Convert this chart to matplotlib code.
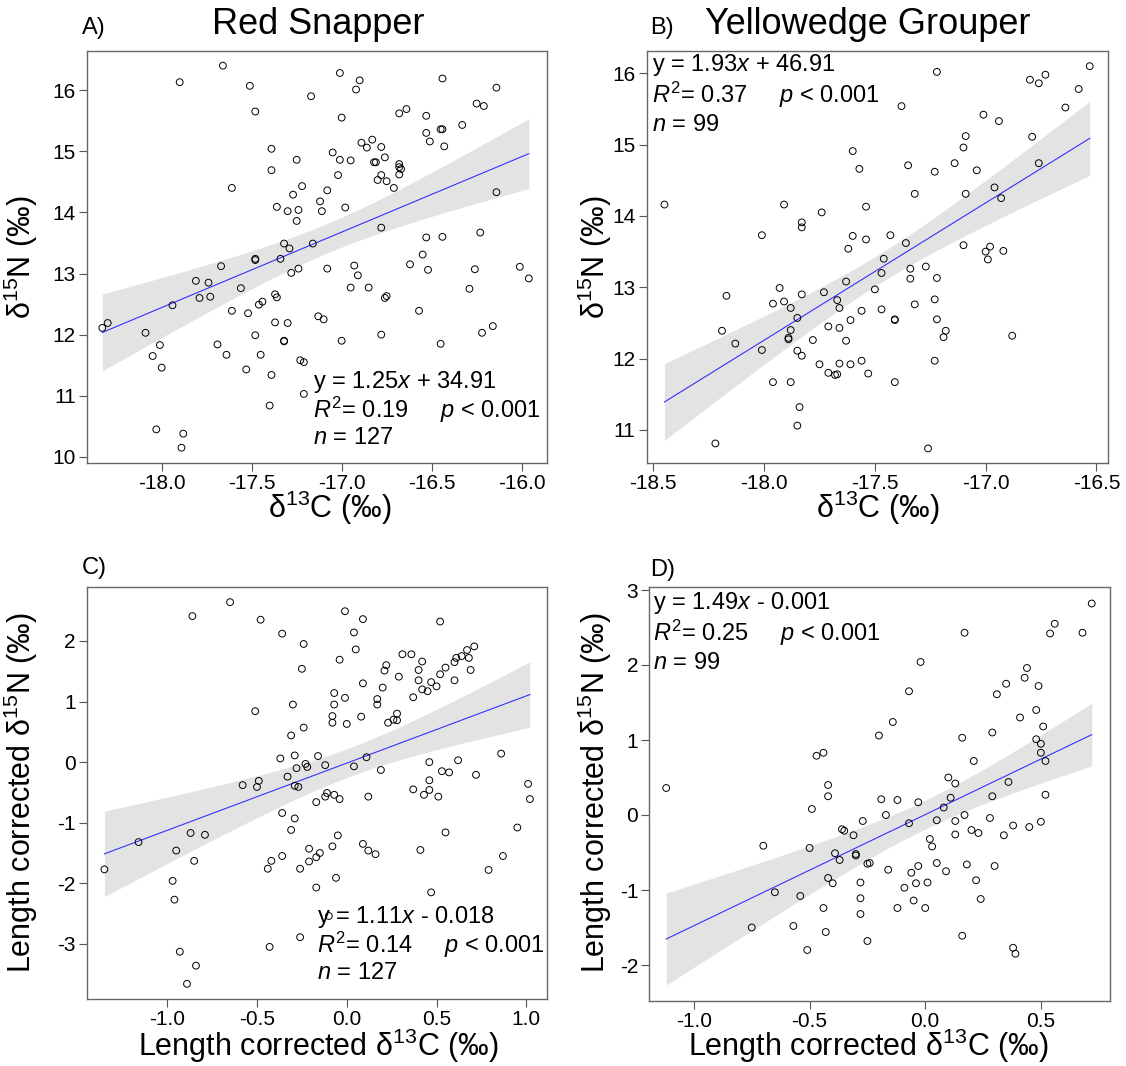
import matplotlib
matplotlib.use('Agg')
import matplotlib.pyplot as plt
import numpy as np

plt.rcParams.update({
    'font.family': ['Liberation Sans', 'DejaVu Sans'],
    'mathtext.fontset': 'custom',
    'mathtext.rm': 'Liberation Sans',
    'mathtext.it': 'Liberation Sans:italic',
    'mathtext.bf': 'Liberation Sans:bold',
    'axes.unicode_minus': False,
})

# === data ===
# A) Red Snapper: d13C vs d15N
a_x = [-18.33, -18.30, -18.09, -18.01, -18.05, -18.00, -17.94, -17.81, -17.79, -17.74,
       -17.73, -17.67, -17.56, -17.61, -17.52, -17.48, -17.48, -17.46, -17.44, -17.37,
       -17.36, -17.34, -17.32, -17.29, -17.28, -17.24, -17.16, -17.37, -17.30, -17.32,
       -17.32, -17.48, -17.45, -17.53, -17.39, -17.69, -17.64, -17.23, -17.21, -17.21,
       -17.40, -18.03, -17.88, -17.89, -17.90, -17.66, -17.51, -17.48, -17.17, -17.39,
       -17.25, -17.39, -17.61, -17.22, -17.27, -17.36, -17.30, -17.24, -17.25, -17.12,
       -17.11, -17.13, -17.10,
       -17.01, -16.90, -16.92, -17.00, -16.44, -16.14, -16.25, -16.21, -16.68, -16.64,
       -16.53, -16.53, -16.51, -16.45, -16.44, -16.33, -16.43, -16.89, -16.86, -16.83,
       -16.78, -16.76, -16.82, -16.81, -16.68, -16.68, -16.67, -16.68, -16.78, -16.80,
       -16.75, -16.71, -17.05, -17.01, -16.95, -17.02, -17.08, -16.98, -16.14, -16.78,
       -16.53, -16.44, -16.23, -16.55, -16.62, -16.52, -17.08, -16.93, -16.91, -16.95,
       -16.85, -16.76, -16.75, -16.57, -16.26, -16.29, -16.01, -15.96, -16.16, -16.22,
       -17.00, -16.78, -16.45]
a_y = [12.11, 12.19, 12.03, 11.83, 11.65, 11.46, 12.48, 12.88, 12.60, 12.85,
       12.62, 13.12, 12.76, 12.39, 12.35, 13.24, 13.22, 12.49, 12.54, 12.66,
       12.61, 13.24, 13.49, 13.41, 13.01, 13.08, 13.49, 12.20, 12.19, 11.90,
       11.89, 11.99, 11.67, 11.43, 11.34, 11.84, 11.67, 11.58, 11.55, 11.03,
       10.84, 10.45, 10.38, 10.15, 16.13, 16.40, 16.07, 15.65, 15.90, 15.04,
       14.86, 14.69, 14.40, 14.43, 14.29, 14.09, 14.02, 14.04, 13.86, 14.18,
       14.02, 12.30, 12.25,
       16.28, 16.16, 16.01, 15.55, 16.19, 16.04, 15.78, 15.74, 15.62, 15.69,
       15.58, 15.30, 15.16, 15.36, 15.36, 15.43, 15.08, 15.14, 15.06, 15.19,
       15.07, 14.90, 14.82, 14.82, 14.79, 14.74, 14.71, 14.62, 14.61, 14.53,
       14.51, 14.40, 14.98, 14.86, 14.85, 14.61, 14.36, 14.08, 14.33, 13.75,
       13.59, 13.60, 13.67, 13.31, 13.15, 13.06, 13.08, 13.13, 12.97, 12.77,
       12.77, 12.60, 12.63, 12.39, 13.07, 12.75, 13.11, 12.92, 12.14, 12.03,
       11.90, 12.00, 11.85]

# B) Yellowedge Grouper: d13C vs d15N
b_x = [-18.45, -18.22, -18.17, -18.19, -18.13, -18.01, -18.01, -17.96, -17.96, -17.93,
       -17.91, -17.91, -17.88, -17.85, -17.88, -17.89, -17.89, -17.85, -17.83, -17.88,
       -17.84, -17.85, -17.83, -17.83, -17.83, -17.74, -17.73, -17.78, -17.75, -17.71,
       -17.71, -17.68, -17.67, -17.66, -17.66, -17.67, -17.66, -17.63, -17.61, -17.61,
       -17.56, -17.53, -17.56, -17.63, -17.62, -17.60, -17.54, -17.54, -17.60, -17.57,
       -17.50, -17.46, -17.47, -17.47, -17.43, -17.36, -17.34, -17.34, -17.27, -17.22,
       -17.23, -17.32, -17.41, -17.41, -17.22, -17.18, -17.19, -17.23, -17.41, -17.26,
       -17.32, -17.35, -17.38, -17.22, -17.23, -17.14, -17.09, -17.10, -17.04, -17.09,
       -17.10, -16.98, -17.00, -16.99, -16.92, -16.88, -16.96, -16.93, -17.01, -16.94,
       -16.79, -16.76, -16.80, -16.76, -16.73, -16.64, -16.58, -16.53]
b_y = [14.16, 10.81, 12.88, 12.39, 12.21, 12.12, 13.73, 11.67, 12.77, 12.99,
       14.16, 12.80, 12.71, 12.57, 12.40, 12.27, 12.29, 12.11, 12.04, 11.67,
       11.32, 11.06, 13.91, 13.84, 12.90, 14.05, 12.93, 12.26, 11.92, 12.45,
       11.80, 11.77, 11.78, 11.93, 12.43, 12.82, 12.71, 12.25, 12.54, 11.92,
       11.97, 11.79, 12.67, 13.08, 13.54, 13.72, 13.67, 14.13, 14.91, 14.66,
       12.97, 13.40, 13.20, 12.69, 13.73, 13.62, 13.26, 13.12, 13.29, 13.13,
       12.83, 12.76, 12.55, 12.54, 12.55, 12.39, 12.30, 11.97, 11.67, 10.74,
       14.31, 14.71, 15.54, 16.02, 14.62, 14.74, 15.12, 14.96, 14.64, 14.31,
       13.59, 13.57, 13.50, 13.39, 13.51, 12.32, 14.40, 14.25, 15.42, 15.33,
       15.11, 14.74, 15.91, 15.86, 15.98, 15.52, 15.78, 16.10]

# C) Red Snapper, length corrected
c_x = [-1.35, -1.16, -0.95, -0.85, -0.87, -0.79, -0.97, -0.96, -0.93, -0.84,
       -0.89, -0.86, -0.65, -0.48, -0.36, -0.24, -0.25, -0.30, -0.51, -0.31,
       -0.24, -0.37, -0.29, -0.23, -0.22, -0.28, -0.33, -0.16, -0.58, -0.49,
       -0.50, -0.29, -0.27, -0.36, -0.29, -0.31, -0.17, -0.21, -0.21, -0.17,
       -0.15, -0.36, -0.42, -0.44, -0.26, -0.17, -0.26, -0.43,
       -0.12, -0.12, -0.11, -0.07, -0.04, -0.01, 0.09, 0.04, 0.05, -0.04,
       0.52, 0.31, 0.36, 0.22, 0.21, 0.29, 0.42, 0.40, 0.40, 0.09,
       0.20, -0.07, -0.01, -0.07, -0.08, -0.08, 0.00, 0.08, 0.17, 0.17,
       0.23, 0.26, 0.28, 0.28, 0.37, 0.42, 0.45, 0.47, 0.50, 0.52,
       0.55, 0.60, 0.60, 0.61, 0.64, 0.67, 0.71, 0.68, 0.69, 0.04,
       0.11, 0.19, 0.12, 0.46, 0.53, 0.57, 0.62, 0.72, 0.86, 1.01,
       1.02, 0.37, 0.43, 0.46, 0.46, 0.51, 0.55, 0.95, 0.87, 0.79,
       0.41, 0.47, -0.05, -0.08, 0.09, 0.12, 0.16, -0.06, -0.10]
c_y = [-1.77, -1.32, -1.46, -1.63, -1.17, -1.20, -1.96, -2.27, -3.13, -3.36,
       -3.66, 2.41, 2.64, 2.35, 2.12, 1.95, 1.54, 0.95, 0.84, 0.44,
       0.57, 0.06, 0.11, -0.03, -0.08, -0.10, -0.24, 0.10, -0.38, -0.31,
       -0.41, -0.39, -0.41, -0.84, -0.93, -1.12, -0.66, -1.43, -1.64, -1.57,
       -1.50, -1.55, -1.63, -1.76, -1.76, -2.07, -2.89, -3.05,
       -0.05, -0.57, -0.51, -0.54, -0.61, 2.49, 2.36, 2.14, 1.86, 1.69,
       2.32, 1.78, 1.78, 1.60, 1.51, 1.41, 1.66, 1.52, 1.35, 1.30,
       1.23, 1.14, 1.06, 0.95, 0.76, 0.65, 0.63, 0.75, 1.04, 0.95,
       0.65, 0.70, 0.69, 0.80, 1.07, 1.20, 1.17, 1.32, 1.25, 1.45,
       1.56, 1.35, 1.65, 1.72, 1.75, 1.85, 1.91, 1.72, 1.52, -0.07,
       0.08, -0.13, -0.57, 0.00, -0.15, -0.17, 0.03, -0.21, 0.14, -0.36,
       -0.61, -0.45, -0.54, -0.30, -0.46, -0.57, -1.16, -1.08, -1.55, -1.78,
       -1.45, -2.15, -1.21, -1.39, -1.35, -1.46, -1.52, -1.91, -2.54]

# D) Yellowedge Grouper, length corrected
d_x = [-1.12, -0.75, -0.70, -0.65, -0.57, -0.54, -0.51, -0.50, -0.49, -0.47,
       -0.44, -0.42, -0.42, -0.44, -0.43, -0.42, -0.40, -0.39, -0.37, -0.36,
       -0.35, -0.31, -0.30, -0.30, -0.27, -0.28, -0.28, -0.28, -0.25, -0.25,
       -0.24,
       -0.20, -0.19, -0.14, -0.07, -0.02, 0.17, -0.12, -0.17, -0.07, -0.03,
       -0.16, -0.09, -0.06, -0.03, -0.04, -0.05, -0.12, 0.00, 0.01, 0.02,
       0.03, 0.05, 0.09, 0.05, 0.08, 0.11, 0.10, 0.13, 0.13, 0.13,
       0.17, 0.16, 0.21, 0.20, 0.23, 0.18, 0.22, 0.24, 0.16, 0.28,
       0.29, 0.29, 0.31, 0.35, 0.30, 0.34, 0.38, 0.36, 0.38, 0.39,
       0.41, 0.43, 0.44, 0.45, 0.49, 0.48, 0.48, 0.50, 0.51, 0.50,
       0.52, 0.52, 0.50, 0.54, 0.56, 0.68, 0.72]
d_y = [0.36, -1.50, -0.41, -1.03, -1.48, -1.08, -1.80, -0.44, 0.08, 0.79,
       0.83, 0.40, 0.25, -1.24, -1.56, -0.84, -0.91, -0.51, -0.60, -0.19,
       -0.21, -0.27, -0.52, -0.54, -0.08, -0.90, -1.11, -1.32, -1.68, -0.65,
       -0.64,
       1.06, 0.21, 1.24, 1.65, 2.04, 2.43, 0.20, 0.00, -0.11, 0.17,
       -0.73, -0.97, -0.77, -0.68, -0.91, -1.14, -1.24, -1.24, -0.90, -0.32,
       -0.42, -0.64, -0.75, -0.07, 0.10, 0.23, 0.50, 0.42, -0.08, -0.26,
       0.00, 1.03, 0.72, -0.20, -0.24, -0.66, -0.87, -1.12, -1.61, -0.04,
       0.25, 1.10, 1.61, 1.75, -0.68, -0.27, -0.14, 0.44, -1.77, -1.85,
       1.30, 1.83, 1.96, -0.16, 1.72, 1.40, 1.01, 0.95, 1.18, 0.83,
       0.72, 0.27, -0.09, 2.42, 2.55, 2.43, 2.82]

eq_text = ['y = 1.25$\\mathit{x}$ + 34.91', 'y = 1.93$\\mathit{x}$ + 46.91',
           'y = 1.11$\\mathit{x}$ - 0.018', 'y = 1.49$\\mathit{x}$ - 0.001']
r2_text = ['0.19', '0.37', '0.14', '0.25']
n_text = ['127', '99', '127', '99']

# === layout (pixels -> figure fractions) ===
W, H = 1126, 1066
fig = plt.figure(figsize=(W / 100, H / 100), dpi=100)
fig.patch.set_facecolor('white')


def px_axes(l, t, r, b):
    return fig.add_axes([l / W, 1 - b / H, (r - l) / W, (b - t) / H])


def ftext(x, y, s, **kw):
    fig.text(x / W, 1 - y / H, s, **kw)


def panel(ax, x, y, xlim, ylim, xticks, yticks, eq, r2, n, tx, ty):
    x = np.asarray(x)
    y = np.asarray(y)
    # linear fit + 95% CI
    slope, inter = np.polyfit(x, y, 1)
    xs = np.linspace(x.min(), x.max(), 100)
    fit = slope * xs + inter
    res = y - (slope * x + inter)
    s = np.sqrt(np.sum(res ** 2) / (len(x) - 2))
    se = s * np.sqrt(1 / len(x) + (xs - x.mean()) ** 2 / np.sum((x - x.mean()) ** 2))
    ax.fill_between(xs, fit - 1.98 * se, fit + 1.98 * se, color='#E3E3E3', lw=0, zorder=1)
    ax.plot(xs, fit, color='#3333FF', lw=0.8, zorder=2)
    ax.scatter(x, y, s=24, facecolors='none', edgecolors='black', linewidths=0.7, zorder=3)

    ax.set_xlim(*xlim)
    ax.set_ylim(*ylim)
    ax.set_xticks(xticks)
    ax.set_xticklabels(['{:.1f}'.format(v) for v in xticks])
    ax.set_yticks(yticks)
    ax.set_yticklabels(['{:d}'.format(v) for v in yticks])
    ax.tick_params(direction='out', length=5.5, width=0.8, color='#555555',
                   labelsize=15, pad=2.5)
    for sp in ax.spines.values():
        sp.set_color('#666666')
        sp.set_linewidth(1.0)

    ftext(tx, ty[0], eq, fontsize=17, va='center', ha='left')
    ftext(tx, ty[1], '$\\mathit{R}^2$= ' + r2 + '     $\\mathit{p}$ < 0.001',
          fontsize=17, va='center', ha='left')
    ftext(tx, ty[2], '$\\mathit{n}$ = ' + n, fontsize=17, va='center', ha='left')


axA = px_axes(87, 51, 547, 463)
panel(axA, a_x, a_y, (-18.415, -15.859), (9.90, 16.64),
      [-18.0, -17.5, -17.0, -16.5, -16.0], list(range(10, 17)),
      eq_text[0], r2_text[0], n_text[0], 313, (382, 410, 438))

axB = px_axes(646.7, 50.7, 1107.7, 462.7)
panel(axB, b_x, b_y, (-18.53, -16.449), (10.54, 16.317),
      [-18.5, -18.0, -17.5, -17.0, -16.5], list(range(11, 17)),
      eq_text[1], r2_text[1], n_text[1], 652.5, (65, 95, 125))

axC = px_axes(87, 587, 547.3, 999)
panel(axC, c_x, c_y, (-1.447, 1.117), (-3.91, 2.89),
      [-1.0, -0.5, 0.0, 0.5, 1.0], list(range(-3, 3)),
      eq_text[2], r2_text[2], n_text[2], 317, (917, 945, 973))

axD = px_axes(649.3, 587.3, 1110, 1000.7)
panel(axD, d_x, d_y, (-1.193, 0.799), (-2.476, 3.036),
      [-1.0, -0.5, 0.0, 0.5], list(range(-2, 4)),
      eq_text[3], r2_text[3], n_text[3], 653.5, (603, 633, 663))

# axis labels
lab = dict(fontsize=22, ha='center', va='center')
ftext(330, 508, '\u03b4$^{13}$C (\u2030)', **lab)
ftext(878, 508, '\u03b4$^{13}$C (\u2030)', **lab)
ftext(318, 1046, 'Length corrected \u03b4$^{13}$C (\u2030)', **lab)
ftext(868, 1046, 'Length corrected \u03b4$^{13}$C (\u2030)', **lab)
ftext(21, 257, '\u03b4$^{15}$N (\u2030)', rotation=90, **lab)
ftext(595, 257, '\u03b4$^{15}$N (\u2030)', rotation=90, **lab)
ftext(21, 793, 'Length corrected \u03b4$^{15}$N (\u2030)', rotation=90, **lab)
ftext(595, 793, 'Length corrected \u03b4$^{15}$N (\u2030)', rotation=90, **lab)

# titles and panel letters
ftext(318, 24, 'Red Snapper', ha='center', va='center', fontsize=26)
ftext(868, 24, 'Yellowedge Grouper', ha='center', va='center', fontsize=26)
for s, x0, y0 in [('A)', 82, 28), ('B)', 650, 28), ('C)', 82, 568), ('D)', 650, 570)]:
    ftext(x0, y0, s, ha='left', va='center', fontsize=17)

fig.savefig('out.png', dpi=100, facecolor='white')
plt.close()
